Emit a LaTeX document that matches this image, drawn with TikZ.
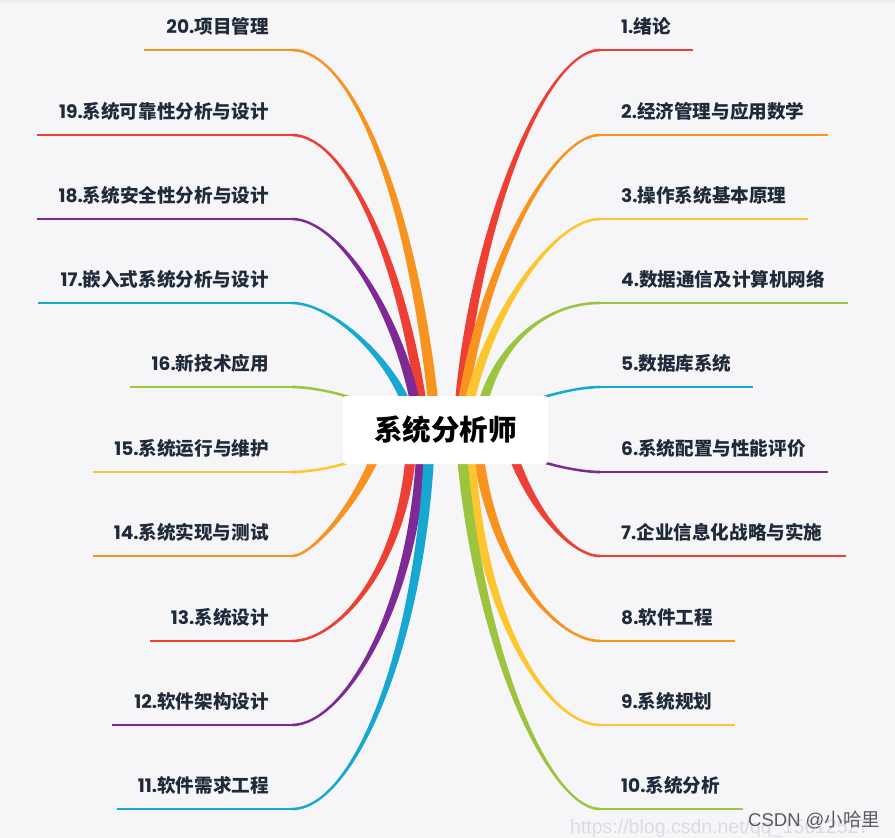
\documentclass[tikz,border=0pt]{standalone}
\usepackage{fontspec}
\setmainfont{Noto Sans CJK SC}
\newfontfamily\latf{Poppins}
\newfontfamily\wmf{Liberation Sans}
\definecolor{bgc}{HTML}{F6F6F9}
\definecolor{topc}{HTML}{EDEDEF}
\definecolor{txtc}{HTML}{1F2A3A}
\definecolor{mred}{HTML}{EE3F34}
\definecolor{morange}{HTML}{F7931E}
\definecolor{myellow}{HTML}{FDC62E}
\definecolor{mgreen}{HTML}{9CC43E}
\definecolor{mcyan}{HTML}{17A8D2}
\definecolor{mpurple}{HTML}{7E2A94}
\definecolor{wmc}{HTML}{5A5A5E}
\definecolor{urlc}{HTML}{DCDCE0}
\usetikzlibrary{calc}
\tikzset{
  lbl/.style={inner sep=0pt, text=txtc, font=\fontsize{18.6}{20}\selectfont\bfseries},
  ulin/.style={line width=2.6pt},
  centerbox/.style={fill=white, minimum width=205pt, minimum height=68pt, rounded corners=3pt,
    inner sep=0pt, text=black, font=\fontsize{28.5}{30}\selectfont\bfseries},
}
\newcommand\mmwz{5.2}
\newcommand\mmwo{1.3}
% #1 colour, #2 start x, #3 c1x, #4 c1y, #5 c2x, #6 end y, #7 end x, #8 sigma
\newcommand\mmband[8]{%
  \fill[#1] ({#2-\mmwz},430) .. controls ({#3-\mmwz},#4) and (#5,{#6-(#8)*\mmwo}) .. (#7,{#6-(#8)*\mmwo})
    -- (#7,{#6+(#8)*\mmwo}) .. controls (#5,{#6+(#8)*\mmwo}) and ({#3+\mmwz},#4) .. ({#2+\mmwz},430) -- cycle;}
\begin{document}
\begin{tikzpicture}[x=1pt,y=-1pt]
\fill[bgc] (0,0) rectangle (895,838);
\fill[topc] (0,0) rectangle (895,3);
\useasboundingbox (0,0) rectangle (895,838);

% ---------- right branches ----------
\mmband{mred}{458}{470}{230}{545}{50}{600}{1}
\mmband{morange}{460}{472}{290}{548}{135}{600}{1}
\mmband{myellow}{464}{478}{330}{550}{219}{600}{1}
\mmband{mgreen}{478}{485}{360}{535}{303}{600}{1}
\mmband{mcyan}{490}{500}{405}{570}{387}{600}{1}
\mmband{mpurple}{490}{500}{455}{570}{472}{600}{-1}
\mmband{mred}{505}{525}{505}{570}{556}{600}{-1}
\mmband{morange}{476}{485}{560}{555}{641}{600}{-1}
\mmband{myellow}{469}{475}{620}{550}{725}{600}{-1}
\mmband{mgreen}{460}{475}{650}{550}{809}{600}{-1}
% ---------- left branches ----------
\mmband{morange}{436}{415}{200}{352}{50}{292}{-1}
\mmband{mred}{425}{405}{260}{345}{135}{292}{-1}
\mmband{mpurple}{420}{405}{320}{340}{219}{292}{-1}
\mmband{mcyan}{414}{405}{370}{335}{303}{292}{-1}
\mmband{mgreen}{400}{392}{405}{325}{387}{292}{-1}
\mmband{myellow}{400}{392}{455}{325}{472}{292}{1}
\mmband{morange}{385}{368}{490}{315}{556}{292}{1}
\mmband{mred}{412}{410}{560}{340}{641}{292}{1}
\mmband{mpurple}{422}{420}{600}{345}{725}{292}{1}
\mmband{mcyan}{430}{424}{640}{355}{809}{292}{1}

% ---------- underlines ----------
\coordinate (a1) at (600,50);   \coordinate (b1) at (693,50);   \draw[ulin,mred] (a1)--(b1);
\coordinate (a2) at (600,135);  \coordinate (b2) at (828,135);  \draw[ulin,morange] (a2)--(b2);
\coordinate (a3) at (600,219);  \coordinate (b3) at (808,219);  \draw[ulin,myellow] (a3)--(b3);
\coordinate (a4) at (600,303);  \coordinate (b4) at (848,303);  \draw[ulin,mgreen] (a4)--(b4);
\coordinate (a5) at (600,387);  \coordinate (b5) at (753,387);  \draw[ulin,mcyan] (a5)--(b5);
\coordinate (a6) at (600,472);  \coordinate (b6) at (828,472);  \draw[ulin,mpurple] (a6)--(b6);
\coordinate (a7) at (600,556);  \coordinate (b7) at (846,556);  \draw[ulin,mred] (a7)--(b7);
\coordinate (a8) at (600,641);  \coordinate (b8) at (735,641);  \draw[ulin,morange] (a8)--(b8);
\coordinate (a9) at (600,725);  \coordinate (b9) at (735,725);  \draw[ulin,myellow] (a9)--(b9);
\coordinate (a10) at (600,809); \coordinate (b10) at (743,809); \draw[ulin,mgreen] (a10)--(b10);
\coordinate (a20) at (292,50);  \coordinate (b20) at (144,50);  \draw[ulin,morange] (a20)--(b20);
\coordinate (a19) at (292,135); \coordinate (b19) at (37,135);  \draw[ulin,mred] (a19)--(b19);
\coordinate (a18) at (292,219); \coordinate (b18) at (37,219);  \draw[ulin,mpurple] (a18)--(b18);
\coordinate (a17) at (292,303); \coordinate (b17) at (38,303);  \draw[ulin,mcyan] (a17)--(b17);
\coordinate (a16) at (292,387); \coordinate (b16) at (130,387); \draw[ulin,mgreen] (a16)--(b16);
\coordinate (a15) at (292,472); \coordinate (b15) at (93,472);  \draw[ulin,myellow] (a15)--(b15);
\coordinate (a14) at (292,556); \coordinate (b14) at (93,556);  \draw[ulin,morange] (a14)--(b14);
\coordinate (a13) at (292,641); \coordinate (b13) at (150,641); \draw[ulin,mred] (a13)--(b13);
\coordinate (a12) at (292,725); \coordinate (b12) at (112,725); \draw[ulin,mpurple] (a12)--(b12);
\coordinate (a11) at (292,809); \coordinate (b11) at (117,809); \draw[ulin,mcyan] (a11)--(b11);

% ---------- labels ----------
\node[lbl,anchor=base west] (l1)  at (621,33)  {{\latf 1.}绪论};
\node[lbl,anchor=base west] (l2)  at (621,118) {{\latf 2.}经济管理与应用数学};
\node[lbl,anchor=base west] (l3)  at (621,202) {{\latf 3.}操作系统基本原理};
\node[lbl,anchor=base west] (l4)  at (621,286) {{\latf 4.}数据通信及计算机网络};
\node[lbl,anchor=base west] (l5)  at (621,370) {{\latf 5.}数据库系统};
\node[lbl,anchor=base west] (l6)  at (621,455) {{\latf 6.}系统配置与性能评价};
\node[lbl,anchor=base west] (l7)  at (621,539) {{\latf 7.}企业信息化战略与实施};
\node[lbl,anchor=base west] (l8)  at (621,624) {{\latf 8.}软件工程};
\node[lbl,anchor=base west] (l9)  at (621,708) {{\latf 9.}系统规划};
\node[lbl,anchor=base west] (l10) at (621,792) {{\latf 10.}系统分析};
\node[lbl,anchor=base east] (l20) at (269,33)  {{\latf 20.}项目管理};
\node[lbl,anchor=base east] (l19) at (269,118) {{\latf 19.}系统可靠性分析与设计};
\node[lbl,anchor=base east] (l18) at (269,202) {{\latf 18.}系统安全性分析与设计};
\node[lbl,anchor=base east] (l17) at (269,286) {{\latf 17.}嵌入式系统分析与设计};
\node[lbl,anchor=base east] (l16) at (269,370) {{\latf 16.}新技术应用};
\node[lbl,anchor=base east] (l15) at (269,455) {{\latf 15.}系统运行与维护};
\node[lbl,anchor=base east] (l14) at (269,539) {{\latf 14.}系统实现与测试};
\node[lbl,anchor=base east] (l13) at (269,624) {{\latf 13.}系统设计};
\node[lbl,anchor=base east] (l12) at (269,708) {{\latf 12.}软件架构设计};
\node[lbl,anchor=base east] (l11) at (269,792) {{\latf 11.}软件需求工程};

% ---------- centre ----------
\node[centerbox] (c) at (445.5,430) {系统分析师};

% ---------- watermark ----------
\node[anchor=base west, inner sep=0pt, text=urlc, font=\wmf\fontsize{19.5}{21}\selectfont] (url) at (570,833) {https://blog.csdn.net/qq\_15612527};
\node[anchor=base west, inner sep=0pt, text=wmc, font=\fontsize{18.5}{20}\selectfont] (wm) at (748,826) {{\wmf CSDN @}小哈里};
\end{tikzpicture}
\end{document}
